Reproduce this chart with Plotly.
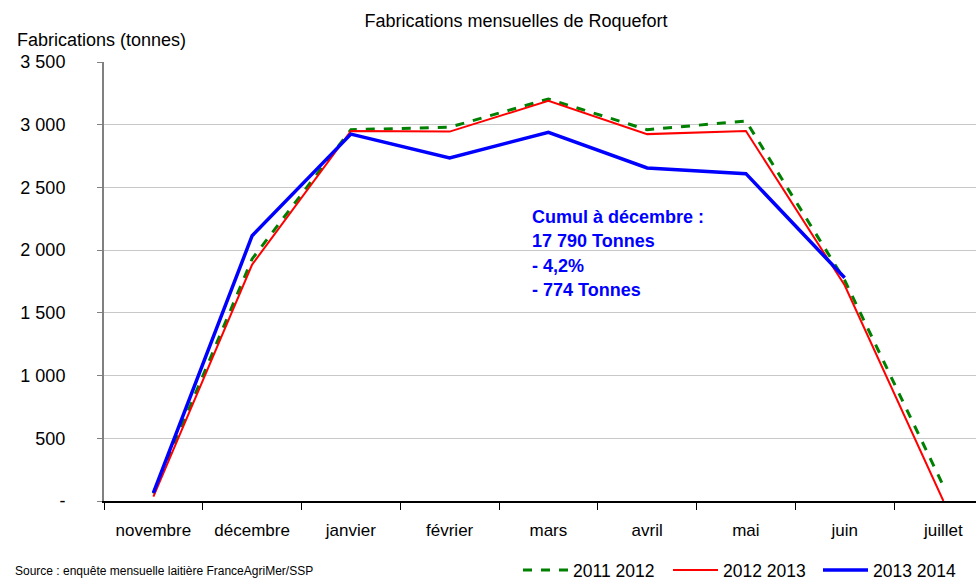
import plotly.graph_objects as go

mois = ["novembre", "décembre", "janvier", "février", "mars", "avril", "mai", "juin", "juillet"]
s_2011_2012 = [60, 1930, 2960, 2980, 3205, 2960, 3030, 1760, 120]
s_2012_2013 = [35, 1885, 2950, 2945, 3190, 2925, 2950, 1720, 0]
s_2013_2014 = [65, 2115, 2925, 2735, 2940, 2655, 2610, 1780]

y_ticks = [0, 500, 1000, 1500, 2000, 2500, 3000, 3500]
y_labels = ["-", "500", "1 000", "1 500", "2 000", "2 500", "3 000", "3 500"]

annot_lines = ["Cumul à décembre :", "17 790 Tonnes", "- 4,2%", "- 774 Tonnes"]

FONT = "Liberation Sans, Arial, sans-serif"

fig = go.Figure()
fig.add_trace(go.Scatter(x=mois, y=s_2011_2012, mode="lines", name="2011 2012",
                         line=dict(color="#008000", width=3, dash="dash")))
fig.add_trace(go.Scatter(x=mois, y=s_2012_2013, mode="lines", name="2012 2013",
                         line=dict(color="#ff0000", width=2)))
fig.add_trace(go.Scatter(x=mois[:len(s_2013_2014)], y=s_2013_2014, mode="lines", name="2013 2014",
                         line=dict(color="#0000ff", width=3.5)))

W, H = 976, 581
L, T, B = 104, 62, 80
plot_w = W - L
plot_h = H - T - B

fig.update_layout(
    width=W, height=H,
    margin=dict(l=L, r=0, t=T, b=B, pad=0, autoexpand=False),
    paper_bgcolor="white", plot_bgcolor="white",
    font=dict(family=FONT, size=17, color="black"),
    showlegend=True,
    legend=dict(orientation="h", x=(518 - L) / plot_w, xanchor="left",
                y=-(570 - 501) / plot_h, yanchor="middle",
                font=dict(size=17.5, family=FONT), itemwidth=45, entrywidth=90,
                tracegroupgap=0, bgcolor="rgba(0,0,0,0)"),
    title=dict(text="Fabrications mensuelles de Roquefort", x=516 / W, xanchor="center",
               y=1 - 21 / H, yanchor="middle", font=dict(size=18, family=FONT)),
)

fig.update_xaxes(
    type="category", range=[-0.5, 8.33], showgrid=False, automargin=False,
    showline=True, linecolor="black", linewidth=2,
    ticks="outside", tickson="boundaries", ticklen=7, tickcolor="black", tickwidth=1,
    tickfont=dict(size=17, family=FONT), ticklabelstandoff=13,
)
fig.update_yaxes(
    range=[0, 3500], tickvals=y_ticks, ticktext=y_labels, automargin=False,
    showgrid=True, gridcolor="#c8c8c8", gridwidth=1,
    showline=True, linecolor="#808080", linewidth=2,
    ticks="outside", ticklen=5, tickcolor="#808080",
    tickfont=dict(size=18, family=FONT), ticklabelstandoff=28, zeroline=False,
)

# y-axis title
fig.add_annotation(text="Fabrications (tonnes)", xref="paper", yref="paper",
                   x=-(L - 15) / plot_w, xanchor="left", y=(501 - 40) / plot_h, yanchor="middle",
                   showarrow=False, font=dict(size=18, family=FONT))

# source
fig.add_annotation(text="Source : enquête mensuelle laitière FranceAgriMer/SSP", xref="paper", yref="paper",
                   x=-(L - 13) / plot_w, xanchor="left", y=-(571 - 501) / plot_h, yanchor="middle",
                   showarrow=False, font=dict(size=12, family=FONT))

# cumul annotation
line_ys = [217, 241, 266, 290]
for txt, py in zip(annot_lines, line_ys):
    fig.add_annotation(text="<b>" + txt + "</b>", xref="paper", yref="paper",
                       x=(530 - L) / plot_w, xanchor="left", y=(501 - py) / plot_h, yanchor="middle",
                       showarrow=False, font=dict(size=18, family=FONT, color="#0000ff"))

fig.write_html("out.html", config={"displayModeBar": False},
               post_script="document.body.style.margin='0px';")
